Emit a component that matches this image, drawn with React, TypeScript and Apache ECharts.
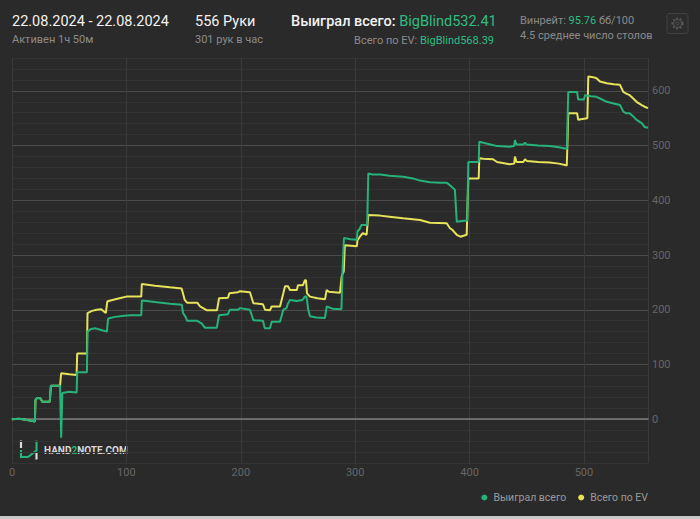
import React, { useEffect, useRef } from "react";
import * as echarts from "echarts";

// ---- data (hand number, cumulative big blinds) ----
const seriesNames = ["Выиграл всего", "Всего по EV"];

const wonPoints: [number, number][] = [
  [0, 0], [6, 1], [12, -1], [17, -3], [20, -4],
  [20.5, 35], [22, 39], [25, 38], [26.5, 32], [33, 32],
  [34, 61], [42, 61], [43, -34], [44, 48], [50, 50], [56.5, 49],
  [57, 86], [65.5, 86],
  [66, 160], [69, 165], [73, 166], [78, 163], [83, 160],
  [84, 184], [90, 187], [98, 189], [104, 190], [113, 190],
  [113.5, 217], [125, 214], [138, 211], [148.5, 209],
  [149.5, 194], [152, 186], [153, 180], [162, 180], [164, 177], [165.8, 175], [168.7, 167], [179, 167],
  [181, 190], [188.8, 192],
  [190.5, 200], [197.6, 200], [199.3, 203], [208, 200],
  [211, 181], [219.4, 180],
  [221, 166], [225.5, 166],
  [227, 178], [234.3, 178],
  [237.2, 200], [240, 203], [241, 210], [243, 218], [249, 216], [254, 218], [256, 224], [257.5, 224],
  [259, 200], [260.5, 188], [266, 186], [273.6, 185],
  [275.1, 206], [280, 202], [288, 201],
  [289, 276], [290.2, 331], [296, 329], [301.5, 328],
  [302, 343], [304, 348], [305.5, 355], [310.5, 355],
  [311.5, 449], [315, 447], [322, 447], [330, 445], [342, 443], [350.5, 440], [356.7, 436], [365.4, 433],
  [375, 432], [380, 432], [381.5, 430], [385.8, 422], [387.2, 419],
  [388.8, 361], [393, 362], [398, 363],
  [398.9, 470], [408, 470],
  [408.5, 507], [412, 505], [420, 501], [424, 499], [435, 498], [439, 499], [439.7, 510], [441, 502],
  [447, 502], [448.5, 505], [450, 502], [460, 500], [470, 499], [478, 497], [484.5, 494],
  [485, 493], [486.3, 598], [494, 598],
  [495, 584], [500, 584],
  [501, 592], [506, 590], [511, 589], [514, 586], [520, 580], [526, 577], [531.5, 574], [534.4, 562],
  [537, 559], [540, 559], [543.1, 553], [546, 547], [550.5, 541], [553, 534], [556, 532.41],
];

const evPoints: [number, number][] = [
  [0, 0], [6, 1], [12, -1], [17, -3], [20, -4],
  [20.5, 35], [22, 39], [25, 38], [26.5, 32], [33, 32],
  [34, 61], [42, 61],
  [43, 84], [50, 82], [56.5, 81],
  [57, 120], [65.5, 120],
  [66, 194], [70, 198], [74, 200], [78, 201], [82, 194],
  [83.3, 215], [86, 217], [94, 221], [100, 224], [113, 224],
  [113.5, 247], [125, 244], [138, 241], [148.3, 239],
  [151, 218], [153, 213], [162, 213], [164.4, 206], [170.5, 199], [179.2, 199],
  [181, 221], [188.8, 222],
  [190, 230], [197.6, 232], [199.3, 234], [208, 232],
  [211, 212], [219.4, 210],
  [221.2, 200], [225.5, 199],
  [227, 206], [234.3, 206],
  [237.2, 230], [238.7, 243], [241.3, 243], [243, 236], [249, 236], [250, 245], [254.4, 245], [256.1, 254], [257, 254],
  [257.9, 230], [260.5, 224], [267, 221], [273.6, 219],
  [275.1, 236], [277, 233], [286.7, 231],
  [288.2, 260], [289, 266], [290, 270], [291, 318], [301.5, 316],
  [302, 327], [304, 333], [306.6, 340], [310, 337],
  [311.5, 373], [321.7, 372], [330, 370], [341.8, 367], [356.7, 364], [365.4, 359], [380, 358],
  [382.9, 349], [385, 346], [388.8, 337], [392, 333.5], [397.5, 337],
  [398.9, 440], [408, 440],
  [408.5, 477], [412, 476], [420.5, 475], [424, 470], [435, 466], [439, 467], [439.7, 480], [441, 470],
  [447, 470], [448.5, 475], [450, 472], [460, 470], [470, 469], [478, 467], [484.5, 464],
  [485, 463], [486.3, 559], [494, 559],
  [495, 547], [500, 549],
  [503, 550], [503.8, 626], [508, 625], [511, 623], [514, 617], [520, 614], [526, 612], [531.5, 611],
  [534.4, 598], [537, 595], [540, 592], [543.1, 586], [546, 580], [550.5, 574], [553, 571], [556, 568.39],
];

const header = {
  dates: "22.08.2024 - 22.08.2024",
  active: "Активен 1ч 50м",
  hands: "556 Руки",
  perHour: "301 рук в час",
  wonLabel: "Выиграл всего: ",
  wonValue: "BigBlind532.41",
  evLabel: "Всего по EV: ",
  evValue: "BigBlind568.39",
  winrateLabel: "Винрейт: ",
  winrateValue: "95.76",
  winrateUnit: " бб/100",
  tables: "4.5 среднее число столов",
};

const GREEN = "#26b27a";
const GREEN_TEXT = "#2fbd83";
const YELLOW = "#e6e35a";
const BG = "#2a2a2a";
const FONT = "Roboto, 'Noto Sans', sans-serif";

export default function App() {
  const ref = useRef<HTMLDivElement>(null);

  useEffect(() => {
    document.body.style.margin = "0";
    if (!ref.current) return;
    const chart = echarts.init(ref.current, undefined, { renderer: "svg" });

    const labelFmt = (v: number) => (Math.round(v) % 100 === 0 ? String(Math.round(v)) : "");

    chart.setOption({
      animation: false,
      backgroundColor: BG,
      textStyle: { fontFamily: FONT },
      grid: { left: 12, right: 52, top: 58, bottom: 53, containLabel: false },
      legend: {
        data: [seriesNames[0], seriesNames[1]],
        right: 52,
        top: 492,
        padding: 0,
        icon: "circle",
        itemWidth: 6,
        itemHeight: 6,
        itemGap: 12,
        textStyle: { color: "#9a9a9a", fontSize: 10.5, fontFamily: FONT, padding: [0, 0, 0, 1] },
      },
      xAxis: [
        {
          type: "value",
          min: 0,
          max: 556,
          interval: 100,
          position: "bottom",
          axisLine: { show: true, onZero: true, lineStyle: { color: "#7c7c7c", width: 1.5 } },
          axisTick: { show: false },
          axisLabel: { show: false },
          splitLine: { show: true, lineStyle: { color: "#3a3a3a", width: 1 } },
        },
        {
          type: "value",
          min: 0,
          max: 556,
          interval: 100,
          position: "bottom",
          axisLine: { show: false, onZero: false },
          axisTick: { show: false },
          axisLabel: { color: "#666", fontSize: 11, margin: 4, formatter: labelFmt },
          splitLine: { show: false },
        },
      ],
      yAxis: {
        type: "value",
        position: "right",
        min: -80,
        max: 660,
        interval: 20,
        axisLine: { show: false },
        axisTick: { show: false },
        axisLabel: { color: "#666", fontSize: 11, margin: 4, formatter: labelFmt },
        splitLine: {
          show: true,
          lineStyle: { color: ["#333333", "#333333", "#333333", "#333333", "#4b4b4b"], width: 1 },
        },
      },
      series: [
        {
          name: seriesNames[1],
          type: "line",
          data: evPoints,
          showSymbol: false,
          symbol: "none",
          itemStyle: { color: YELLOW },
          lineStyle: { color: YELLOW, width: 2 },
          z: 3,
        },
        {
          name: seriesNames[0],
          type: "line",
          data: wonPoints,
          showSymbol: false,
          symbol: "none",
          itemStyle: { color: GREEN },
          lineStyle: { color: GREEN, width: 2 },
          z: 4,
        },
      ],
      graphic: [
        {
          type: "text", x: 12, y: 21, z: 10,
          style: { text: header.dates, fill: "#f2f2f2", fontSize: 14.5, fontFamily: FONT, verticalAlign: "middle" },
        },
        {
          type: "text", x: 12, y: 39, z: 10,
          style: { text: header.active, fill: "#8a8a8a", fontSize: 11, fontFamily: FONT, verticalAlign: "middle" },
        },
        {
          type: "text", x: 195, y: 21, z: 10,
          style: { text: header.hands, fill: "#f2f2f2", fontSize: 14.5, fontFamily: FONT, verticalAlign: "middle" },
        },
        {
          type: "text", x: 195, y: 39, z: 10,
          style: { text: header.perHour, fill: "#8a8a8a", fontSize: 11, fontFamily: FONT, verticalAlign: "middle" },
        },
        {
          type: "text", x: 291, y: 21, z: 10,
          style: {
            text: "{a|" + header.wonLabel + "}{b|" + header.wonValue + "}",
            verticalAlign: "middle",
            rich: {
              a: { fill: "#f2f2f2", color: "#f2f2f2", fontSize: 14.5, fontWeight: 500, fontFamily: FONT },
              b: { fill: GREEN_TEXT, color: GREEN_TEXT, fontSize: 14.5, fontFamily: FONT },
            },
          },
        },
        {
          type: "text", x: 494, y: 40, z: 10,
          style: {
            text: "{a|" + header.evLabel + "}{b|" + header.evValue + "}",
            align: "right",
            verticalAlign: "middle",
            rich: {
              a: { fill: "#8a8a8a", color: "#8a8a8a", fontSize: 11, fontFamily: FONT },
              b: { fill: GREEN_TEXT, color: GREEN_TEXT, fontSize: 11, fontFamily: FONT },
            },
          },
        },
        {
          type: "text", x: 520, y: 20.5, z: 10,
          style: {
            text: "{a|" + header.winrateLabel + "}{b|" + header.winrateValue + "}{a|" + header.winrateUnit + "}",
            verticalAlign: "middle",
            rich: {
              a: { fill: "#8a8a8a", color: "#8a8a8a", fontSize: 11, fontFamily: FONT },
              b: { fill: GREEN_TEXT, color: GREEN_TEXT, fontSize: 11, fontFamily: FONT },
            },
          },
        },
        {
          type: "text", x: 520, y: 35.5, z: 10,
          style: { text: header.tables, fill: "#8a8a8a", fontSize: 11, fontFamily: FONT, verticalAlign: "middle" },
        },
        // settings button
        {
          type: "rect", z: 10,
          shape: { x: 667, y: 13.5, width: 21, height: 20, r: 2 },
          style: { fill: "#2c2c2c", stroke: "#414141", lineWidth: 1 },
        },
        {
          type: "circle", z: 11,
          shape: { cx: 677.5, cy: 23.5, r: 5 },
          style: { fill: "none", stroke: "#555", lineWidth: 2.2, lineDash: [2, 1.6] },
        },
        {
          type: "circle", z: 11,
          shape: { cx: 677.5, cy: 23.5, r: 4 },
          style: { fill: "none", stroke: "#555", lineWidth: 1 },
        },
        {
          type: "circle", z: 11,
          shape: { cx: 677.5, cy: 23.5, r: 1.6 },
          style: { fill: "none", stroke: "#555", lineWidth: 1 },
        },
        // logo
        {
          type: "group", z: 1,
          children: [
            { type: "line", shape: { x1: 21, y1: 440.5, x2: 21, y2: 448 }, style: { stroke: "#d8d8d8", lineWidth: 2.2 } },
            { type: "polyline", shape: { points: [[21, 450], [21, 457], [28, 457], [36.5, 450.5], [36.5, 440.5]] }, style: { stroke: GREEN, lineWidth: 2.2, fill: "none" } },
            { type: "line", shape: { x1: 36.5, y1: 452.5, x2: 36.5, y2: 459.5 }, style: { stroke: "#d8d8d8", lineWidth: 2.2 } },
            {
              type: "text", x: 44, y: 450.5,
              style: {
                text: "{a|HAND}{b|2}{a|NOTE.COM}",
                verticalAlign: "middle",
                rich: {
                  a: { fill: "#d8d8d8", color: "#d8d8d8", fontSize: 10, fontWeight: "bold", fontFamily: FONT },
                  b: { fill: GREEN, color: GREEN, fontSize: 10, fontWeight: "bold", fontFamily: FONT },
                },
              },
            },
          ],
        },
      ],
    });

    return () => chart.dispose();
  }, []);

  return (
    <div style={{ width: 700, height: 519, background: "#c8c8c8" }}>
      <div ref={ref} style={{ width: 700, height: 516 }} />
    </div>
  );
}
